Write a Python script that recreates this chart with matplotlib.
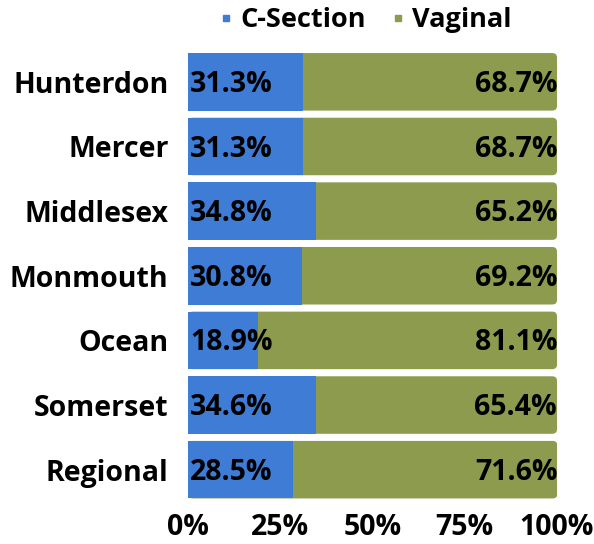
import matplotlib.pyplot as plt
from matplotlib.patches import FancyBboxPatch
from matplotlib.lines import Line2D

counties = ['Hunterdon', 'Mercer', 'Middlesex', 'Monmouth', 'Ocean', 'Somerset', 'Regional']
c_section = [31.3, 31.3, 34.8, 30.8, 18.9, 34.6, 28.5]
vaginal = [68.7, 68.7, 65.2, 69.2, 81.1, 65.4, 71.6]
xticks = [0, 25, 50, 75, 100]

blue = '#3E7CD6'
green = '#8C9B4D'
fs = 20.5

plt.rcParams['font.family'] = ['Open Sans', 'DejaVu Sans']
plt.rcParams['font.weight'] = 'bold'

fig = plt.figure(figsize=(5.94, 5.44), dpi=100)
ax = fig.add_axes([188 / 594, 1 - 502 / 544, 369 / 594, (502 - 49.5) / 544])

h = 0.89
ys = list(range(len(counties)))
for y, c, v in zip(ys, c_section, vaginal):
    # green part with rounded right corners, blue drawn on top
    box = FancyBboxPatch((0, y - h / 2), c + v, h,
                         boxstyle='round,pad=0,rounding_size=1.3',
                         mutation_aspect=0.055, facecolor=green,
                         edgecolor='none', zorder=2)
    ax.add_patch(box)
ax.barh(ys, c_section, height=h, color=blue, zorder=3)

for y, c, v in zip(ys, c_section, vaginal):
    ax.text(0.6, y + 0.04, f'{c}%', va='center', ha='left', fontsize=fs,
            fontweight='bold', zorder=4)
    ax.text(c + v, y + 0.04, f'{v}%', va='center', ha='right', fontsize=fs,
            fontweight='bold', zorder=4)

ax.set_xlim(0, 100)
ax.set_ylim(len(counties) - 0.5, -0.5)
ax.set_yticks(ys)
ax.set_yticklabels(counties, fontsize=fs, fontweight='bold')
ax.set_xticks(xticks)
ax.set_xticklabels([f'{t}%' for t in xticks], fontsize=fs, fontweight='bold')
ax.tick_params(length=0)
ax.tick_params(axis='y', pad=14)
ax.tick_params(axis='x', pad=8)
for s in ax.spines.values():
    s.set_visible(False)

handles = [Line2D([], [], marker='s', ls='none', color=blue, markersize=5),
           Line2D([], [], marker='s', ls='none', color=green, markersize=5)]
fig.legend(handles, ['C-Section', 'Vaginal'], loc='center',
           bbox_to_anchor=(362 / 594, 1 - 20 / 544), ncol=2, frameon=False,
           prop={'size': 19.5, 'weight': 'bold'}, handletextpad=0.0,
           columnspacing=0.7, handlelength=1)

fig.savefig('out.png', dpi=100)
